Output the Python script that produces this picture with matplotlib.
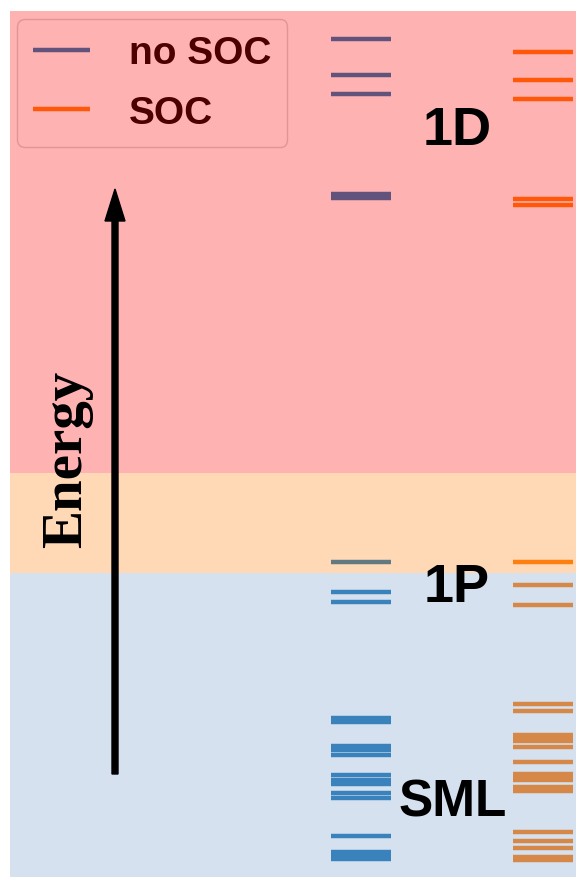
import matplotlib.pyplot as plt

plt.rcParams['font.family'] = ['Liberation Sans', 'DejaVu Sans']

# energies in arbitrary units (bottom of the plot = 0)
no_soc_levels = [838, 802, 783, 683, 679.5,
                 315.3, 285.3, 274.7,
                 159.5, 155.5, 131.5, 127.5, 122.2,
                 102, 96.7, 92.7, 84.5, 79,
                 41.5, 25, 22, 18.5]
soc_levels = [825.3, 797, 778.3, 678.2, 672.5,
              315.3, 292.3, 272.3,
              173.5, 166.3, 142.5, 139, 136.5, 130, 115,
              103, 100, 97.5, 90, 86,
              44.7, 36.3, 29.5, 20.5, 17]

# energy windows of the shells
band_names = ["SML", "1P", "1D"]
band_edges = [(0, 304), (304, 404), (404, 866)]
band_colors = ["#769ecd", "tab:orange", "red"]
band_alpha = [0.3, 0.3, 0.3]
label_pos = [(442.5, 61), (447, 276), (447.5, 733)]

fig = plt.figure(figsize=(5.76, 8.78), dpi=100)
ax = fig.add_axes([10 / 576, 0, 566 / 576, 866 / 878])
ax.set_xlim(0, 566)
ax.set_ylim(0, 866)
ax.axis("off")

ax.hlines(no_soc_levels, 321, 381, color="tab:blue", lw=3.2, label="no SOC", zorder=2)
ax.hlines(soc_levels, 503, 563, color="tab:orange", lw=3.2, label="SOC", zorder=2)

leg = ax.legend(loc="upper left", bbox_to_anchor=(0.0124, 0.9908), borderaxespad=0,
                prop={"size": 28, "weight": "bold"}, handlelength=1.45,
                handletextpad=1.0, labelspacing=0.6, borderpad=0.42)
leg.set_zorder(3)

for (lo, hi), c, a in zip(band_edges, band_colors, band_alpha):
    ax.axhspan(lo, hi, color=c, alpha=a, lw=0, zorder=6)

for name, (x, y) in zip(band_names, label_pos):
    ax.text(x, y, name, ha="center", va="baseline", fontsize=39 if name != "SML" else 37,
            fontweight="bold", zorder=10)

ax.arrow(105, 103, 0, 585, width=6, head_width=20, head_length=32,
         length_includes_head=True, color="black", zorder=10)
ax.text(57, 419, "Energy", rotation=90, ha="center", va="center", fontsize=41,
        fontweight="bold", family=["Liberation Serif", "DejaVu Serif"], zorder=10)

fig.savefig("out.png", dpi=100)
